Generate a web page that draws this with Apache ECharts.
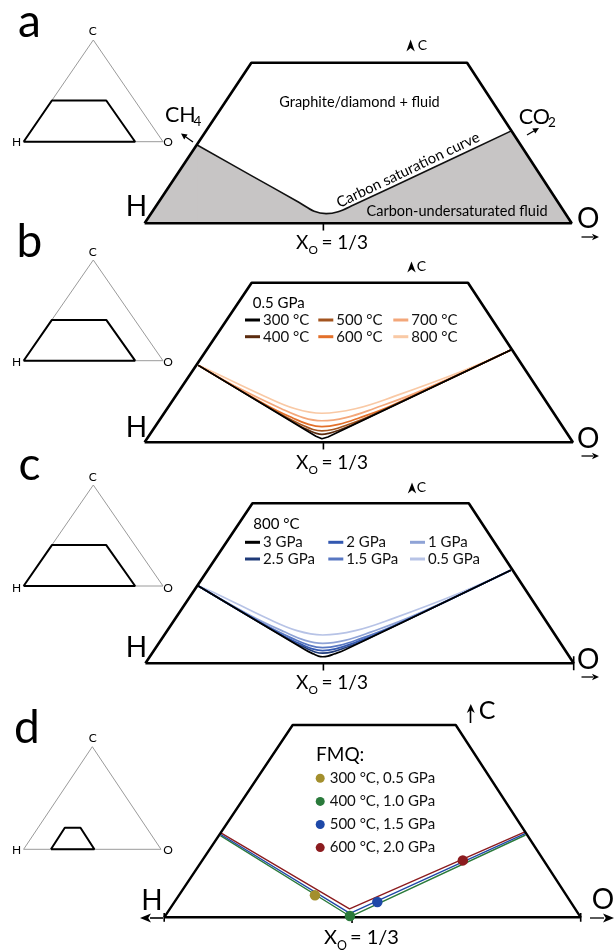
<!DOCTYPE html>
<html><head><meta charset="utf-8">
<script src="https://cdn.jsdelivr.net/npm/echarts/dist/echarts.min.js"></script>
<style>html,body{margin:0;padding:0;background:#fff}#c{width:616px;height:951px}</style>
</head><body><div id="c"></div>
<script>
// ===== DATA (normalised panel coordinates: x 0 = H end of base, 1 = O end; y 0 = base, 1 = top edge) =====
const trapezoidABC = [[0,0],[0.25,1],[0.755,1],[1,0],[0,0]];
const trapezoidD   = [[0,0],[0.3085,1],[0.700,1],[1,0],[0,0]];
const insetTriangle = [[0,0],[0.5,1],[1,0],[0,0]];
const insetTrapABC  = [[0,0],[0.203,0.405],[0.593,0.405],[0.80,0],[0,0]];
const insetTrapD    = [[0.199,0],[0.30,0.21],[0.414,0.21],[0.515,0],[0.199,0]];
const xoTickABC = [0.4186, 0.4175, 0.4156];
const xoTickD = 0.451;

// panel a: carbon saturation curve
const satCurveA = [[0.123,0.4875],[0.250,0.297],[0.361,0.131],[0.397,0.075],[0.425,0.060],[0.453,0.072],[0.489,0.114],[0.673,0.343],[0.8574,0.574]];
const fillLeftA  = [[0,0],[0.123,0.4875],[0.13,0.477]];
const fillRightA = [[0.85,0.565],[0.8574,0.574],[1,0]];

// panel b: 0.5 GPa, temperatures
const tempsB = ['300 °C','400 °C','500 °C','600 °C','700 °C','800 °C'];
const curvesB = [
  [[0.1256,0.482],[0.400,0.038],[0.414,0.022],[0.428,0.033],[0.855,0.578]],
  [[0.1256,0.482],[0.360,0.106],[0.386,0.072],[0.401,0.056],[0.414,0.050],[0.430,0.056],[0.450,0.072],[0.4825,0.106],[0.855,0.578]],
  [[0.1256,0.482],[0.328,0.161],[0.369,0.107],[0.393,0.080],[0.414,0.071],[0.440,0.080],[0.471,0.107],[0.524,0.161],[0.855,0.578]],
  [[0.1256,0.482],[0.286,0.231],[0.347,0.151],[0.383,0.112],[0.414,0.098],[0.453,0.112],[0.499,0.151],[0.577,0.231],[0.855,0.578]],
  [[0.1256,0.482],[0.229,0.327],[0.318,0.212],[0.370,0.155],[0.414,0.135],[0.470,0.155],[0.536,0.212],[0.649,0.327],[0.855,0.578]],
  [[0.1256,0.482],[0.160,0.440],[0.280,0.289],[0.352,0.210],[0.414,0.182],[0.492,0.210],[0.584,0.289],[0.741,0.445],[0.855,0.578]]
];

// panel c: 800 °C, pressures
const pressC = ['3 GPa','2.5 GPa','2 GPa','1.5 GPa','1 GPa','0.5 GPa'];
const curvesC = [
  [[0.1237,0.483],[0.374,0.083],[0.393,0.058],[0.404,0.045],[0.414,0.041],[0.426,0.045],[0.4405,0.058],[0.465,0.083],[0.853,0.581]],
  [[0.1237,0.483],[0.340,0.140],[0.3755,0.094],[0.396,0.071],[0.414,0.063],[0.437,0.071],[0.463,0.094],[0.508,0.140],[0.853,0.581]],
  [[0.1237,0.483],[0.315,0.181],[0.3626,0.120],[0.390,0.090],[0.414,0.079],[0.444,0.090],[0.479,0.120],[0.539,0.181],[0.853,0.581]],
  [[0.1237,0.483],[0.286,0.231],[0.347,0.151],[0.383,0.112],[0.414,0.098],[0.453,0.112],[0.499,0.151],[0.577,0.231],[0.853,0.581]],
  [[0.1237,0.483],[0.244,0.301],[0.326,0.195],[0.373,0.143],[0.414,0.125],[0.466,0.143],[0.526,0.195],[0.629,0.301],[0.853,0.581]],
  [[0.1237,0.483],[0.168,0.432],[0.284,0.281],[0.354,0.204],[0.414,0.177],[0.490,0.204],[0.579,0.281],[0.731,0.436],[0.853,0.581]]
];

// panel d: FMQ buffer
const fmqLabels = ['300 °C, 0.5 GPa','400 °C, 1.0 GPa','500 °C, 1.5 GPa','600 °C, 2.0 GPa'];
const fmqPoints = [[0.362,0.115],[0.446,0.007],[0.5117,0.080],[0.717,0.296]];
const lineDGreen = [[0.135,0.425],[0.447,0.004],[0.8675,0.428]];
const lineDBlue  = [[0.135,0.432],[0.446,0.020],[0.8675,0.436]];
const lineDRed   = [[0.135,0.440],[0.445,0.044],[0.8675,0.445]];

// ===== STYLE / LAYOUT =====
const FONT = 'Lato, "Open Sans", "Noto Sans", sans-serif';
const colorsB = ['#000000','#5b2b0e','#a3541f','#e3702a','#f3a77a','#f9c9a5'];
const colorsC = ['#000000','#1f3a78','#3358b0','#5877c2','#8fa3d6','#b7c3e6'];
const fmqColors = ['#a38f2d','#2a7a3b','#1e48a8','#8c1c1f'];
const dLineColors = ['#2a7a3b','#1e48a8','#8c1c1f'];

const grids = [
  {left:144.6, top:62.7, width:427.1, height:160.6},   // 0 a
  {left:144.6, top:282.7, width:428.3, height:159.6},  // 1 b
  {left:145.4, top:503.3, width:428.3, height:160},    // 2 c
  {left:164.2, top:725, width:416.5, height:192.3},    // 3 d
  {left:23.6, top:40, width:139.4, height:101.7},      // 4 inset a
  {left:23.6, top:260, width:139.4, height:100.7},     // 5 inset b
  {left:23.6, top:485, width:139.4, height:101},       // 6 inset c
  {left:23.6, top:746.7, width:137.4, height:102.6}    // 7 inset d
];

const series = [];
function L(g, data, color, width, extra) {
  series.push(Object.assign({
    type:'line', xAxisIndex:g, yAxisIndex:g, data, symbol:'none', clip:false, silent:true,
    lineStyle:{color, width, opacity:1}, itemStyle:{color}, z:3
  }, extra || {}));
}
const GRAY = '#c7c5c5';
// panel a
L(0, fillLeftA, GRAY, 0, {areaStyle:{color:GRAY, opacity:1}, z:1});
L(0, satCurveA, GRAY, 0, {areaStyle:{color:GRAY, opacity:1}, smooth:0.35, z:1});
L(0, fillRightA, GRAY, 0, {areaStyle:{color:GRAY, opacity:1}, z:1});
L(0, satCurveA, '#111', 1.6, {smooth:0.35});
// trapezoids & ticks
[0,1,2].forEach(g => {
  L(g, trapezoidABC, '#000', 2.6, {z:5});
  L(g, [[xoTickABC[g],0],[xoTickABC[g],-0.045]], '#000', 1.6, {z:5});
});
L(2, [[1,0.044],[1,-0.044]], '#000', 1.6, {z:5});
L(3, trapezoidD, '#000', 2.4, {z:5});
L(3, [[xoTickD,0],[xoTickD,-0.03]], '#000', 1.6, {z:5});
L(3, [[0,0.023],[0,-0.023]], '#000', 1.6, {z:5});
L(3, [[1,0.023],[1,-0.023]], '#000', 1.6, {z:5});
// panel b curves (lightest first)
for (let i = curvesB.length-1; i >= 0; i--) {
  L(1, curvesB[i], colorsB[i], 1.7, {name:tempsB[i], smooth: i===0 ? false : 0.4});
}
// panel c curves
for (let i = curvesC.length-1; i >= 0; i--) {
  L(2, curvesC[i], colorsC[i], 1.7, {name:pressC[i], smooth:0.4});
}
// panel d lines
L(3, lineDGreen, dLineColors[0], 1.4);
L(3, lineDBlue, dLineColors[1], 1.4);
L(3, lineDRed, dLineColors[2], 1.4);
fmqLabels.forEach((n,i) => {
  series.push({type:'scatter', name:n, xAxisIndex:3, yAxisIndex:3, data:[fmqPoints[i]], symbolSize:10.5,
    itemStyle:{color:fmqColors[i], opacity:1}, clip:false, silent:true, z:6});
});
// insets
[4,5,6,7].forEach(g => L(g, insetTriangle, '#9a9a9a', 1, {z:2}));
[4,5,6].forEach(g => L(g, insetTrapABC, '#000', 2, {z:3}));
L(7, insetTrapD, '#000', 2, {z:3});

// ===== GRAPHIC TEXTS / ARROWS =====
const G = [];
function T(x, y, text, size, align, extra) {
  G.push(Object.assign({type:'text', x, y, silent:true, z:10,
    style:{text, fontSize:size, fontFamily:FONT, fill:'#000', textAlign:align||'center',
      textVerticalAlign:'middle', verticalAlign:'middle'}}, extra||{}));
}
function poly(points) { G.push({type:'polygon', silent:true, z:10, shape:{points}, style:{fill:'#000'}}); }
function seg(points, w) { G.push({type:'polyline', silent:true, z:10, shape:{points}, style:{stroke:'#000', lineWidth:w||1.3, fill:null}}); }
function rightArrow(x0, x1, y, hl, hw) {
  seg([[x0,y],[x1-hl+1,y]], 1.3);
  poly([[x1,y],[x1-hl,y-hw],[x1-hl*0.75,y],[x1-hl,y+hw]]);
}
function leftArrow(x0, x1, y, hl, hw) {
  seg([[x0,y],[x1+hl-1,y]], 1.6);
  poly([[x1,y],[x1+hl,y-hw],[x1+hl*0.75,y],[x1+hl,y+hw]]);
}
function upHead(x, y, h, w) { poly([[x,y],[x-w,y+h],[x,y+h*0.7],[x+w,y+h]]); }
function xoLabel(t, y, size) {
  T(t-15, y, 'X', size, 'right');
  T(t-15, y+size*0.4, 'O', size*0.62, 'left');
  T(t-2, y, '= 1/3', size, 'left');
}

// panel letters
T(29.5, 21.8, 'a', 46); T(29.5, 242, 'b', 46); T(29.5, 465, 'c', 46); T(27, 728.4, 'd', 46);

// panel a
T(359.5, 102, 'Graphite/diamond + fluid', 14.5);
T(408, 170, 'Carbon saturation curve', 14.8, 'center', {rotation: 25.5*Math.PI/180});
T(457, 211, 'Carbon-undersaturated fluid', 14.5);
T(165, 115.5, 'CH', 21.5, 'left'); T(193.5, 122, '4', 13.5, 'left');
T(518.7, 117, 'CO', 21.5, 'left'); T(548, 123, '2', 13.5, 'left');
seg([[193,142],[185.9,137]], 1.3); poly([[181,133.5],[187.6,134.6],[185.9,137],[184.2,139.4]]);
seg([[527,135],[533.8,131]], 1.3); poly([[539,128],[535.3,133.6],[533.8,131],[532.3,128.4]]);
upHead(410.6, 39.5, 12, 4.2); T(422.4, 45, 'C', 14);
T(136.5, 206.7, 'H', 28); T(588.3, 219, 'O', 28);
rightArrow(581.5, 599, 237, 7, 3.2);
xoLabel(323.4, 243, 19);

// panel b
upHead(411.5, 261.5, 11, 4.2); T(421.4, 266.5, 'C', 14);
T(136.5, 427.5, 'H', 28); T(588.3, 439, 'O', 28);
rightArrow(581.5, 599, 456, 7, 3.2);
T(252.7, 303.3, '0.5 GPa', 15, 'left');
xoLabel(323.4, 463, 19);

// panel c
upHead(412, 482.5, 11, 4.2); T(421.4, 487.5, 'C', 14);
T(136.5, 647.8, 'H', 28); T(588.3, 660, 'O', 28);
rightArrow(581.5, 599, 677, 7, 3.2);
T(253.3, 524, '800 °C', 15, 'left');
xoLabel(323.4, 683, 19);

// panel d
seg([[470.5,723],[470.5,710]], 1.6); upHead(470.8, 704, 9, 4); T(487, 711, 'C', 25);
T(152, 901, 'H', 28); T(603, 900, 'O', 28);
leftArrow(163, 140, 918, 11, 4.5);
rightArrow(590, 614, 918, 11, 4.5);
T(316, 755, 'FMQ:', 19, 'left');
xoLabel(352, 937.5, 20);

// insets labels
[[31.5,142.5],[251.7,362],[476.7,588],[738.3,850.5]].forEach(p => {
  T(92.7, p[0], 'C', 12); T(16.7, p[1], 'H', 12); T(168, p[1], 'O', 12);
});

// ===== LEGENDS =====
function lineLegend(left, top, data) {
  return {left, top, orient:'vertical', itemGap:1.7, itemWidth:15, itemHeight:3, icon:'rect', padding:0,
    selectedMode:false, data, textStyle:{fontSize:15, fontFamily:FONT, color:'#111', padding:[0,0,0,-2]}};
}
const legends = [
  lineLegend(245, 312.5, [tempsB[0], tempsB[1]]),
  lineLegend(318.3, 312.5, [tempsB[2], tempsB[3]]),
  lineLegend(393.3, 312.5, [tempsB[4], tempsB[5]]),
  lineLegend(245, 534.8, [pressC[0], pressC[1]]),
  lineLegend(328.3, 534.8, [pressC[2], pressC[3]]),
  lineLegend(410, 534.8, [pressC[4], pressC[5]]),
  {left:315.7, top:770.8, orient:'vertical', itemGap:8.1, itemWidth:9, itemHeight:9, icon:'circle', padding:0,
    selectedMode:false, data:fmqLabels, itemStyle:{opacity:1}, textStyle:{fontSize:15, fontFamily:FONT, color:'#111'}}
];

const chart = echarts.init(document.getElementById('c'), null, {renderer:'canvas'});
chart.setOption({
  backgroundColor:'#ffffff',
  animation:false,
  grid: grids.map(g => Object.assign({containLabel:false, outerBoundsMode:'none'}, g)),
  xAxis: grids.map((g,i) => ({type:'value', gridIndex:i, min:0, max:1, show:false})),
  yAxis: grids.map((g,i) => ({type:'value', gridIndex:i, min:0, max:1, show:false})),
  legend: legends,
  series,
  graphic: G
});
</script></body></html>
